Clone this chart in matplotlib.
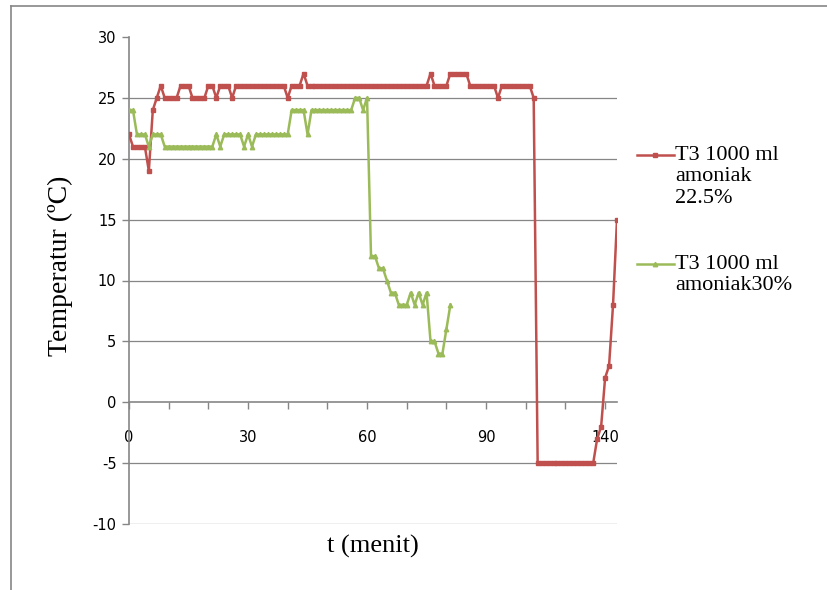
import numpy as np
import matplotlib.pyplot as plt
from matplotlib.lines import Line2D

plt.rcParams['axes.unicode_minus'] = False

# temperature readings, one value per recorded time step (category axis)
red_temp = ([22] + [21] * 4 + [19, 24, 25, 26] + [25] * 4 + [26] * 3 + [25] * 4
            + [26] * 2 + [25] + [26] * 3 + [25] + [26] * 13 + [25] + [26] * 3
            + [27] + [26] * 31 + [27] + [26] * 4 + [27] * 5 + [26] * 7 + [25]
            + [26] * 8 + [25] + [-5] * 15 + [-3, -2, 2, 3, 8, 15])
green_temp = ([24] * 2 + [22] * 3 + [21] + [22] * 3 + [21] * 13 + [22] + [21]
              + [22] * 5 + [21] + [22] + [21] + [22] * 9 + [24] * 4 + [22]
              + [24] * 11 + [25] * 2 + [24] + [25] + [12] * 2 + [11] * 2 + [10]
              + [9] * 2 + [8] * 3 + [9, 8, 9, 8, 9] + [5] * 2 + [4] * 2 + [6, 8])

tick_pos = [0, 30, 60, 90, 120]
tick_labels = ['0', '30', '60', '90', '140']
yticks = list(range(-10, 31, 5))

red_label = 'T3 1000 ml\namoniak\n22.5%'
green_label = 'T3 1000 ml\namoniak30%'

red_c = '#C0504D'
green_c = '#9BBB59'
grey = '#868686'
serif = 'Liberation Serif'

fig = plt.figure(figsize=(8.28, 5.9), dpi=100)
ax = fig.add_axes([129 / 828, 1 - 524 / 590, 488 / 828, 487 / 590])

ax.plot(np.arange(len(red_temp)), red_temp, color=red_c, lw=1.8,
        marker='s', markersize=3.2, zorder=3)
ax.plot(np.arange(len(green_temp)), green_temp, color=green_c, lw=1.8,
        marker='^', markersize=3.2, zorder=3)

ax.set_xlim(0, 123)
ax.set_ylim(-10, 30)
ax.set_yticks(yticks)
ax.set_xticks(range(0, 121, 10))
ax.set_xticklabels([tick_labels[tick_pos.index(t)] if t in tick_pos else ''
                    for t in range(0, 121, 10)])

for y in yticks:
    if y not in (0, 30):
        ax.axhline(y, color=grey, lw=0.9, zorder=1)

for s in ['top', 'right']:
    ax.spines[s].set_visible(False)
ax.spines['bottom'].set_position(('data', 0))
ax.spines['bottom'].set_color(grey)
ax.spines['left'].set_color(grey)
ax.spines['bottom'].set_linewidth(1.2)
ax.spines['left'].set_linewidth(1.2)

ax.tick_params(axis='x', direction='out', length=5, width=1, color=grey,
               pad=15, labelsize=10.5)
ax.tick_params(axis='y', direction='out', length=5, width=1, color=grey,
               pad=4, labelsize=10.5)

fig.text(60 / 828, 1 - 266 / 590, 'Temperatur (ºC)', rotation=90,
         ha='center', va='center', family=serif, fontsize=20)
fig.text(373 / 828, 1 - 546 / 590, 't (menit)', ha='center', va='center',
         family=serif, fontsize=19)

# legend drawn by hand so each handle sits on the first text line
for label, color, marker, y0 in [(red_label, red_c, 's', 155),
                                 (green_label, green_c, '^', 264)]:
    yf = 1 - y0 / 590
    fig.add_artist(Line2D([637 / 828, 674 / 828], [yf, yf],
                          transform=fig.transFigure, color=color, lw=1.8))
    fig.add_artist(Line2D([655 / 828], [yf], transform=fig.transFigure,
                          color=color, marker=marker, markersize=3.2))
    fig.text(675 / 828, 1 - (y0 - 9) / 590, label, ha='left', va='top',
             family=serif, fontsize=16, linespacing=1.17)

# outer chart frame (left and top edges visible)
fig.add_artist(Line2D([11 / 828, 11 / 828], [0, 1 - 6 / 590],
                      transform=fig.transFigure, color=grey, lw=1.2))
fig.add_artist(Line2D([11 / 828, 1], [1 - 6 / 590, 1 - 6 / 590],
                      transform=fig.transFigure, color=grey, lw=1.2))

fig.savefig('out.png', dpi=100)
